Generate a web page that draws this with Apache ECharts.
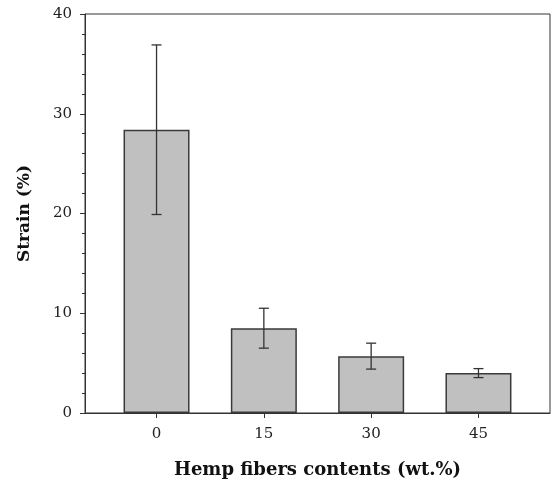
<!DOCTYPE html>
<html>
<head>
<meta charset="utf-8">
<script src="https://cdn.jsdelivr.net/npm/echarts@6/dist/echarts.min.js"></script>
<style>html,body{margin:0;padding:0;background:#fff}#c{width:551px;height:484px}</style>
</head>
<body>
<div id="c"></div>
<script>
var categories = [0, 15, 30, 45];
var strain = [28.4, 8.5, 5.7, 4.0];
var errUpper = [36.9, 10.5, 7.0, 4.45];
var errLower = [19.9, 6.5, 4.4, 3.55];
var yTicks = [0, 10, 20, 30, 40];

var chart = echarts.init(document.getElementById('c'));
var barData = categories.map(function (c, i) { return [c, strain[i]]; });
var errData = categories.map(function (c, i) { return [c, errLower[i], errUpper[i]]; });
var serif = '"DejaVu Serif", serif';

chart.setOption({
  animation: false,
  backgroundColor: '#fff',
  grid: { left: 85, right: 1, top: 14, bottom: 70, show: true, borderColor: '#333', borderWidth: 1, backgroundColor: 'transparent' },
  xAxis: {
    type: 'value', min: -10, max: 55,
    name: 'Hemp fibers contents (wt.%)', nameLocation: 'middle', nameGap: 48,
    nameTextStyle: { fontFamily: serif, fontWeight: 'bold', fontSize: 18, color: '#111' },
    axisLine: { show: true, onZero: false, lineStyle: { color: '#333', width: 1 } },
    axisTick: { show: true, customValues: categories, length: 5, lineStyle: { color: '#333' } },
    axisLabel: { customValues: categories, margin: 14, fontFamily: serif, fontSize: 15, color: '#222' },
    splitLine: { show: false }
  },
  yAxis: {
    type: 'value', min: 0, max: 40, interval: 10,
    name: 'Strain (%)', nameLocation: 'middle', nameGap: 52,
    nameTextStyle: { fontFamily: serif, fontWeight: 'bold', fontSize: 17, color: '#111' },
    axisLine: { show: true, onZero: false, lineStyle: { color: '#333', width: 1 } },
    axisTick: { show: true, length: 5, lineStyle: { color: '#333' } },
    minorTick: { show: true, splitNumber: 5, length: 3, lineStyle: { color: '#333' } },
    axisLabel: { margin: 13, fontFamily: serif, fontSize: 15, color: '#222',
      formatter: function (v) { return yTicks.indexOf(v) >= 0 ? String(v) : ''; } },
    splitLine: { show: false }
  },
  series: [
    {
      type: 'bar', data: barData, barWidth: 66,
      itemStyle: { color: '#c0c0c0', borderColor: '#3a3a3a', borderWidth: 1.5 }
    },
    {
      type: 'custom', data: errData, z: 10,
      renderItem: function (params, api) {
        var x = api.value(0);
        var lo = api.coord([x, api.value(1)]);
        var hi = api.coord([x, api.value(2)]);
        var hw = 5;
        var st = { stroke: '#333', lineWidth: 1.3 };
        return {
          type: 'group',
          children: [
            { type: 'line', shape: { x1: hi[0], y1: hi[1], x2: lo[0], y2: lo[1] }, style: st },
            { type: 'line', shape: { x1: hi[0] - hw, y1: hi[1], x2: hi[0] + hw, y2: hi[1] }, style: st },
            { type: 'line', shape: { x1: lo[0] - hw, y1: lo[1], x2: lo[0] + hw, y2: lo[1] }, style: st }
          ]
        };
      }
    }
  ]
});
</script>
</body>
</html>
